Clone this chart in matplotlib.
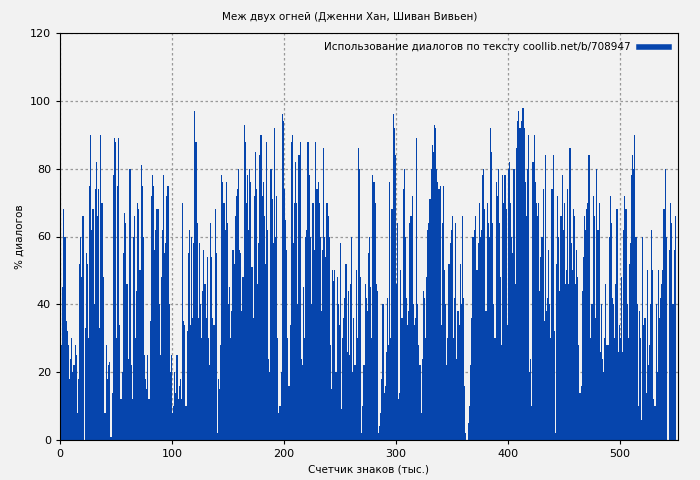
import matplotlib
matplotlib.use("Agg")
import matplotlib.pyplot as plt
import numpy as np

title = "Меж двух огней (Дженни Хан, Шиван Вивьен)"
xlabel = "Счетчик знаков (тыс.)"
ylabel = "% диалогов"
legend_label = "Использование диалогов по тексту coollib.net/b/708947"

values = [
8,28,45,68,60,35,32,28,18,24,
30,20,22,28,25,8,18,52,60,48,
66,0,33,55,52,30,75,90,62,68,
40,74,82,66,74,33,90,70,48,8,
8,28,18,22,23,1,14,78,89,88,
30,75,89,34,12,20,55,67,64,46,
46,24,80,22,12,60,66,30,44,70,
68,50,81,75,60,25,18,15,25,12,
35,72,78,75,56,62,68,68,40,25,
48,62,78,55,58,72,75,40,20,25,
8,10,20,14,25,12,16,18,12,70,
35,34,10,32,55,62,34,60,36,58,
97,88,64,36,58,40,30,44,56,46,
36,54,30,22,64,54,36,34,68,55,
2,18,15,28,78,76,70,62,76,64,
40,45,30,38,56,52,66,72,74,80,
56,55,38,48,93,88,70,78,62,80,
76,51,36,72,85,74,46,58,84,90,
72,76,66,52,88,62,24,20,80,71,
58,92,60,72,30,8,10,20,96,94,
74,65,56,30,16,34,88,90,58,70,
82,70,40,84,88,24,22,45,30,60,
62,88,78,60,40,70,70,56,88,74,
76,70,60,38,56,86,60,54,70,66,
60,28,15,50,47,50,20,48,40,34,
58,9,30,36,42,52,26,44,25,46,
60,20,36,22,50,30,86,80,48,2,
10,22,46,42,38,55,60,45,30,78,
76,70,46,44,2,4,8,18,40,14,
16,26,42,28,76,30,68,96,92,84,
46,64,12,14,50,36,74,80,60,42,
34,38,64,66,72,40,34,36,89,40,
28,22,8,24,44,42,30,48,62,64,
71,80,87,85,93,92,80,76,74,75,
34,64,75,50,40,22,30,52,58,62,
66,30,42,64,24,38,34,52,40,66,
42,16,2,0,5,10,22,36,60,60,
62,66,50,58,70,60,62,78,80,68,
38,70,64,60,92,85,64,40,30,76,
72,80,64,48,28,78,70,78,68,34,
80,82,70,60,55,80,46,86,94,97,
92,92,94,98,92,76,66,80,90,20,
24,10,82,90,76,70,66,70,44,54,
60,74,35,84,38,42,56,40,30,74,
84,32,2,52,72,60,44,66,78,62,
70,46,50,74,46,86,58,50,68,66,
46,56,48,28,14,16,44,54,66,62,
68,70,84,30,40,40,72,66,36,80,
62,70,26,40,24,20,30,46,28,28,
60,72,64,42,40,30,46,68,26,34,
30,48,26,62,72,68,40,30,52,58,
78,84,80,90,60,40,10,38,30,6,
60,34,36,14,50,22,28,40,62,50,
12,10,40,20,50,36,42,46,50,68,
80,60,0,0,56,70,64,40,56,66,
]
x = np.arange(len(values))

color = "#0645AD"
bg = "#f2f2f2"
fig = plt.figure(figsize=(7, 4.8), dpi=100, facecolor=bg)
ax = fig.add_axes([60/700, 40/480, 618/700, 407/480])
ax.set_facecolor(bg)
ax.bar(x + 0.5, values, width=1.0, color=color, linewidth=0, zorder=2)
ax.set_xlim(0, len(values) + 2)
ax.set_ylim(0, 120)
ax.set_xticks([0, 100, 200, 300, 400, 500])
ax.set_yticks(range(0, 121, 20))
ax.grid(True, color="#999999", linestyle=(0, (2, 2)), linewidth=0.9, zorder=1)
ax.set_axisbelow(True)
for s in ax.spines.values():
    s.set_color("black")
    s.set_zorder(3)
ax.tick_params(labelsize=8, length=3, direction="out")
ax.set_xlabel(xlabel, fontsize=7.5)
ax.set_ylabel(ylabel, fontsize=7.5)
fig.suptitle(title, fontsize=7.5, y=0.975)
from matplotlib.lines import Line2D
h = [Line2D([0], [0], color=color, lw=4)]
leg = ax.legend(h, [legend_label], loc="upper right", fontsize=7.5, frameon=False,
                markerfirst=False, handlelength=2.8, borderaxespad=0.5)
leg.set_zorder(4)
fig.savefig("out.png", dpi=100, facecolor=bg)
